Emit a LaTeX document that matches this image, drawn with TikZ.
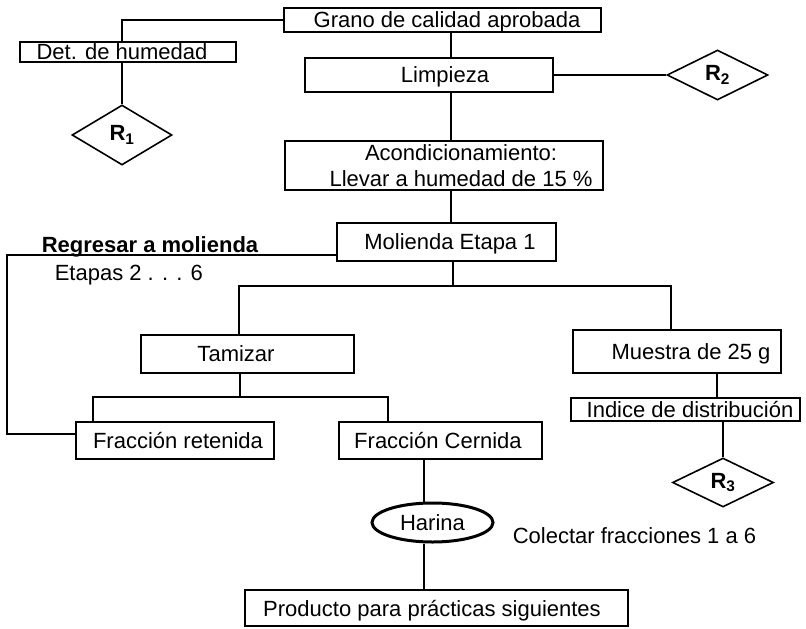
\documentclass[tikz,border=0pt]{standalone}
\usepackage{fontspec}
\setmainfont{Liberation Sans}
\usetikzlibrary{shapes.geometric}
\begin{document}
\begin{tikzpicture}[x=1pt,y=-1pt,
  line width=1.6pt,
  every node/.style={font=\fontsize{22}{26}\selectfont},
  box/.style={draw, rectangle, inner sep=0pt, text depth=0pt},
  dia/.style={draw, diamond, inner sep=0pt},
  freetext/.style={anchor=base west, inner sep=0pt},
]
\useasboundingbox (0,0) rectangle (806,629);

% process boxes
\node[box, minimum width=317pt, minimum height=24pt] (grano) at (442.5,20) {\hspace*{9pt}Grano de calidad aprobada};
\node[box, minimum width=216pt, minimum height=20pt] (det) at (128,52) {Det. de humedad\hspace*{12pt}};
\node[box, minimum width=248pt, minimum height=34pt] (limp) at (429,75) {\hspace*{32pt}Limpieza};
\node[box, minimum width=318pt, minimum height=49pt, align=center] (acond) at (444,165.5)
  {\hspace*{34pt}Acondicionamiento:\\\hspace*{34pt}Llevar a humedad de 15 \%};
\node[box, minimum width=219pt, minimum height=38pt] (mol) at (446.5,242) {\hspace*{7pt}Molienda Etapa 1};
\node[box, minimum width=213pt, minimum height=38pt] (tam) at (247.5,354) {Tamizar\hspace*{23pt}};
\node[box, minimum width=208pt, minimum height=43pt] (mue) at (677,351.5) {\hspace*{28pt}Muestra de 25 g};
\node[box, minimum width=229pt, minimum height=23pt] (ind) at (685.5,409.5) {\hspace*{9pt}Indice de distribución};
\node[box, minimum width=198pt, minimum height=37pt] (fret) at (175,440.5) {\hspace*{6pt}Fracción retenida};
\node[box, minimum width=203pt, minimum height=37pt] (fcer) at (440.5,440.5) {Fracción Cernida\hspace*{5pt}};
\node[draw, ellipse, line width=3pt, minimum width=121pt, minimum height=39pt, inner sep=0pt, text depth=0pt] (har) at (432.5,522.5) {Harina};
\node[box, minimum width=383pt, minimum height=36pt] (prod) at (436.5,608) {Producto para prácticas siguientes\hspace*{9pt}};

% result diamonds
\node[dia, minimum width=100pt, minimum height=60pt] (r1) at (122,135) {\textbf{R\textsubscript{1}}};
\node[dia, minimum width=101pt, minimum height=50pt] (r2) at (717.5,75) {\textbf{R\textsubscript{2}}};
\node[dia, minimum width=101pt, minimum height=49pt] (r3) at (723,482.5) {\textbf{R\textsubscript{3}}};

% free labels
\node[freetext, font=\fontsize{22}{26}\selectfont\bfseries] (regr) at (41,252) {Regresar a molienda};
\node[freetext] (etap) at (54,280) {Etapas 2 . . . 6};
\node[freetext] (colec) at (512,543) {Colectar fracciones 1 a 6};

% routing points
\coordinate (spine) at (451,0);
\coordinate (split) at (453,286);
\coordinate (tl) at (239,286);
\coordinate (tr) at (671,286);
\coordinate (mx) at (717,0);
\coordinate (tamx) at (240,0);
\coordinate (fl) at (93,397);
\coordinate (fr) at (388,397);
\coordinate (loopTL) at (7,255);
\coordinate (loopBL) at (7,434);
\coordinate (hx) at (424,0);

% connectors
\draw (grano.west) -| (det.north -| r1.north);
\draw (det.south -| r1.north) -- (r1.north);
\draw (grano.south -| spine) -- (limp.north -| spine);
\draw (limp.east) -- (r2.west);
\draw (limp.south -| spine) -- (acond.north -| spine);
\draw (acond.south -| spine) -- (mol.north -| spine);
\draw (mol.south -| split) -- (split);
\draw (tam.north -| tl) |- (tr) -- (mue.north -| tr);
\draw (mue.south -| mx) -- (ind.north -| mx);
\draw (ind.south -| r3.north) -- (r3.north);
\draw (tam.south -| tamx) -- (tamx |- fl);
\draw (fret.north -| fl) |- (fr) -- (fcer.north -| fr);
\draw (mol.west |- loopTL) -- (loopTL) -- (loopBL) -- (fret.west |- loopBL);
\draw (fcer.south -| hx) -- (har.north -| hx);
\draw (har.south -| hx) -- (prod.north -| hx);
\end{tikzpicture}
\end{document}
